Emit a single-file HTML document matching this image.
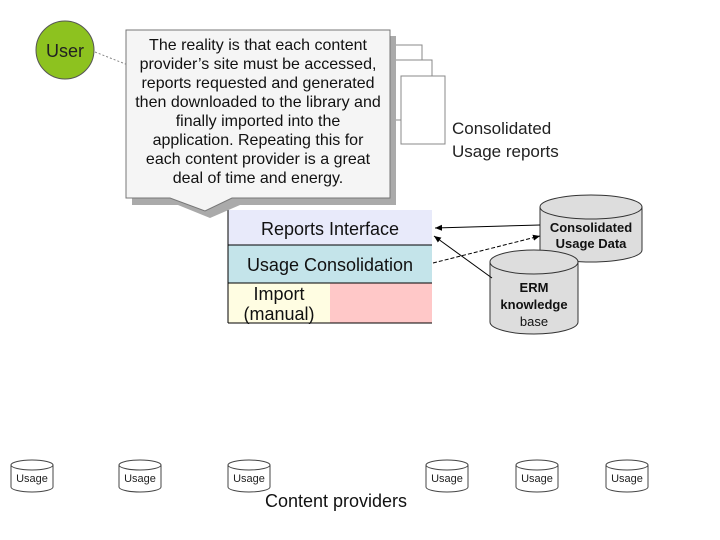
<!DOCTYPE html>
<html><head><style>body{margin:0;background:#fff}svg{display:block}text{font-family:"Liberation Sans",sans-serif}</style></head><body>
<svg width="720" height="540" viewBox="0 0 720 540" xmlns="http://www.w3.org/2000/svg">
<defs><marker id="a" markerWidth="8" markerHeight="8" refX="7" refY="4" orient="auto"><path d="M0,1 L7,4 L0,7 z" fill="#000"/></marker></defs>
<g fill="#fff" stroke="#888">
<rect x="380" y="45" width="42" height="60"/>
<rect x="390" y="60" width="42" height="60"/>
<rect x="401" y="76" width="44" height="68"/>
</g>
<text x="452" y="134" font-size="17" fill="#222">Consolidated</text>
<text x="452" y="157" font-size="17" fill="#222">Usage reports</text>
<line x1="95" y1="52" x2="128" y2="65" stroke="#888" stroke-dasharray="2,2"/>
<circle cx="65" cy="50" r="29" fill="#8dc21f" stroke="#555"/>
<text x="65" y="57" font-size="18" text-anchor="middle" fill="#222">User</text>
<rect x="228" y="210" width="204" height="35" fill="#e8eafa"/>
<rect x="228" y="245" width="204" height="38" fill="#c4e4ea"/>
<rect x="228" y="283" width="102" height="40" fill="#fffde2"/>
<rect x="330" y="283" width="102" height="40" fill="#ffc8c8"/>
<g stroke="#000" stroke-width="1"><line x1="228" y1="210" x2="228" y2="323"/><line x1="228" y1="245" x2="432" y2="245"/><line x1="228" y1="283" x2="432" y2="283"/><line x1="228" y1="323" x2="432" y2="323"/></g>
<text x="330" y="235" font-size="18" text-anchor="middle" fill="#111">Reports Interface</text>
<text x="330" y="271" font-size="18" text-anchor="middle" fill="#111">Usage Consolidation</text>
<text x="279" y="300" font-size="18" text-anchor="middle" fill="#111">Import</text>
<text x="279" y="320" font-size="18" text-anchor="middle" fill="#111">(manual)</text>
<path d="M132,36 H396 V205 H240 L210,218 L178,205 H132 Z" fill="#aaa"/>
<path d="M126,30 H390 V198 H232 L205,211 L170,198 H126 Z" fill="#f5f5f5" stroke="#777"/>
<g font-size="16" text-anchor="middle" fill="#111">
<text x="258" y="50">The reality is that each content</text>
<text x="258" y="69">provider’s site must be accessed,</text>
<text x="258" y="88">reports requested and generated</text>
<text x="258" y="107">then downloaded to the library and</text>
<text x="258" y="126">finally imported into the</text>
<text x="258" y="145">application. Repeating this for</text>
<text x="258" y="164">each content provider is a great</text>
<text x="258" y="183">deal of time and energy.</text>
</g>
<g stroke="#333" fill="#ddd">
<path d="M540,207 V250 A51,12 0 0 0 642,250 V207"/>
<ellipse cx="591" cy="207" rx="51" ry="12"/>
<path d="M490,262 V322 A44,12 0 0 0 578,322 V262"/>
<ellipse cx="534" cy="262" rx="44" ry="12"/>
</g>
<g font-size="13" font-weight="bold" text-anchor="middle" fill="#111">
<text x="591" y="232">Consolidated</text><text x="591" y="248">Usage Data</text>
<text x="534" y="292">ERM</text><text x="534" y="309">knowledge</text><text x="534" y="326" font-weight="normal">base</text>
</g>
<g stroke="#000" fill="none">
<line x1="540" y1="225" x2="435" y2="228" marker-end="url(#a)"/>
<line x1="433" y1="263" x2="540" y2="236" stroke-dasharray="4,2" marker-end="url(#a)"/>
<line x1="492" y1="278" x2="434" y2="236" marker-end="url(#a)"/>
</g>
<g stroke="#444" fill="#fff">
<g transform="translate(32,0)"><path d="M-21,465 V487 A21,5 0 0 0 21,487 V465"/><ellipse cx="0" cy="465" rx="21" ry="5"/></g>
<g transform="translate(140,0)"><path d="M-21,465 V487 A21,5 0 0 0 21,487 V465"/><ellipse cx="0" cy="465" rx="21" ry="5"/></g>
<g transform="translate(249,0)"><path d="M-21,465 V487 A21,5 0 0 0 21,487 V465"/><ellipse cx="0" cy="465" rx="21" ry="5"/></g>
<g transform="translate(447,0)"><path d="M-21,465 V487 A21,5 0 0 0 21,487 V465"/><ellipse cx="0" cy="465" rx="21" ry="5"/></g>
<g transform="translate(537,0)"><path d="M-21,465 V487 A21,5 0 0 0 21,487 V465"/><ellipse cx="0" cy="465" rx="21" ry="5"/></g>
<g transform="translate(627,0)"><path d="M-21,465 V487 A21,5 0 0 0 21,487 V465"/><ellipse cx="0" cy="465" rx="21" ry="5"/></g>
</g>
<g font-size="11" text-anchor="middle" fill="#222">
<text x="32" y="482">Usage</text><text x="140" y="482">Usage</text><text x="249" y="482">Usage</text><text x="447" y="482">Usage</text><text x="537" y="482">Usage</text><text x="627" y="482">Usage</text>
</g>
<text x="336" y="507" font-size="18" text-anchor="middle" fill="#111">Content providers</text>
</svg>
</body></html>
